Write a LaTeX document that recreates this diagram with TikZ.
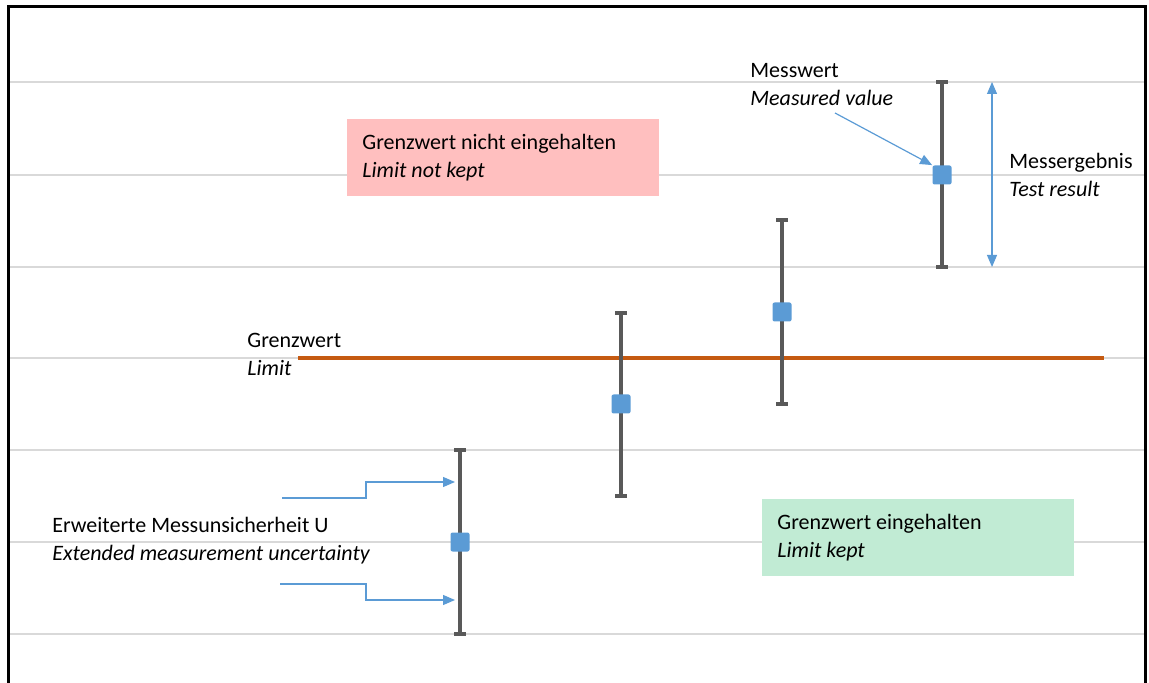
\documentclass[tikz,border=0pt]{standalone}
\usepackage{fontspec}
\setmainfont{Carlito}
\usepackage{tikz}
\usetikzlibrary{arrows.meta, positioning}

\definecolor{gridgray}{HTML}{D9D9D9}
\definecolor{bargray}{HTML}{595959}
\definecolor{markblue}{HTML}{5B9BD5}
\definecolor{limitorange}{HTML}{C55A11}
\definecolor{notkept}{HTML}{FFBFBF}
\definecolor{kept}{HTML}{C1EBD4}

\begin{document}
\begin{tikzpicture}[x=0.5pt, y=-0.5pt,
	gridline/.style={draw=gridgray, line width=1pt},
	errbar/.style={draw=bargray, line width=2pt},
	marker/.style={fill=markblue, minimum size=9.5pt, inner sep=0pt, rounded corners=1pt},
	label/.style={font=\fontsize{11}{13.8}\selectfont, align=flush left, inner sep=0pt, anchor=north west},
	zone/.style={font=\fontsize{11}{13.8}\selectfont, align=flush left, anchor=north west, inner xsep=7.5pt, text width=141pt, minimum height=38.5pt},
	pointer/.style={draw=markblue, line width=0.6pt, -{Triangle[length=6pt, width=5pt]}}]
		\useasboundingbox (0,0) rectangle (1149,683);
		% grid
		\foreach \y in {82,175,267,358,450,542,634}
			\draw[gridline] (9,\y) -- (1144,\y);
		\draw[line width=1.5pt] (8,683) -- (8,6.5) -- (1145,6.5) -- (1145,683);
		
		% zones
		\node[zone, fill=notkept] (red) at (347,119) {Grenzwert nicht eingehalten\\\textit{Limit not kept}};
		\node[zone, fill=kept] (green) at (762,499) {Grenzwert eingehalten\\\textit{Limit kept}};
		
		% limit
		\coordinate (lim-a) at (298,358);
		\coordinate (lim-b) at (1104,358);
		\draw[draw=limitorange, line width=2pt] (lim-a) -- (lim-b);
		\node[label] (limit) at (247,333) {Grenzwert\\\textit{Limit}};
		
		% error bars
		\foreach \x/\t/\m/\b [count=\i] in {460/450/542/634, 621/313/404/496, 782/220/312/404, 942/82/175/267} {
			\coordinate (top\i) at (\x,\t);
			\coordinate (bot\i) at (\x,\b);
			\draw[errbar] (top\i) -- (bot\i);
			\draw[errbar] ([xshift=-3pt]top\i) -- ([xshift=3pt]top\i);
			\draw[errbar] ([xshift=-3pt]bot\i) -- ([xshift=3pt]bot\i);
			\node[marker] (m\i) at (\x,\m) {};
		}
		
		% measured value
		\node[label] (mv) at (750,63) {Messwert\\\textit{Measured value}};
		\coordinate (mv-tail) at (835,113);
		\draw[pointer] (mv-tail) -- (m4.north west);
		
		% test result
		\coordinate (res-top) at (992,82);
		\coordinate (res-bot) at (992,267);
		\draw[pointer, {Triangle[length=6pt, width=5pt]}-{Triangle[length=6pt, width=5pt]}] (res-top) -- (res-bot);
		\node[label] (res) at (1009,153) {Messergebnis\\\textit{Test result}};
		
		% uncertainty
		\node[label] (unc) at (52,517) {Erweiterte Messunsicherheit U\\\textit{Extended measurement uncertainty}};
		\coordinate (u-tail1) at (282,498);
		\coordinate (u-tip1) at (455,482);
		\coordinate (u-tail2) at (280,584);
		\coordinate (u-tip2) at (455,600);
		\draw[pointer] (u-tail1) -- ++(84,0) |- (u-tip1);
		\draw[pointer] (u-tail2) -- ++(86,0) |- (u-tip2);
	\end{tikzpicture}
\end{document}
